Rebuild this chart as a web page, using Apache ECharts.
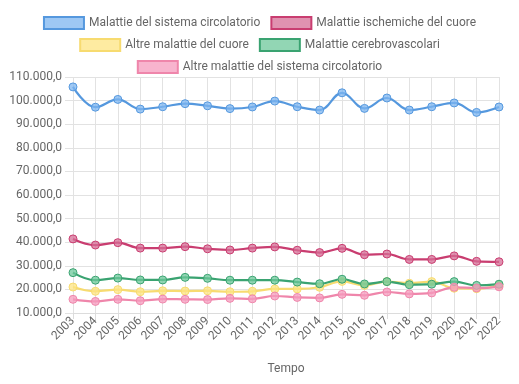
<!DOCTYPE html>
<html>
<head>
<meta charset="utf-8">
<script src="https://cdn.jsdelivr.net/npm/echarts@6/dist/echarts.min.js"></script>
<style>html,body{margin:0;padding:0;background:#fff}#c{width:519px;height:384px}</style>
</head>
<body>
<div id="c"></div>
<script>
var years = ['2003','2004','2005','2006','2007','2008','2009','2010','2011','2012','2013','2014','2015','2016','2017','2018','2019','2020','2021','2022'];
var sistemaCircolatorio = [105800,97200,100500,96400,97400,98700,97800,96600,97300,99800,97400,96000,103300,96700,101100,96000,97400,99000,95000,97300];
var ischemiche = [41400,38800,39800,37500,37500,38100,37200,36700,37500,38000,36600,35600,37400,34700,35000,32700,32700,34200,31900,31700];
var altreCuore = [21000,19200,19900,19000,19400,19300,19400,19000,19200,20200,20200,20900,23400,21700,23300,22600,23300,20500,20300,21700];
var cerebrovascolari = [27100,23900,24800,24000,24000,25100,24700,23900,23900,23900,23100,22400,24300,22300,23300,22000,22200,23300,21700,22200];
var altreSistema = [15800,14900,15800,15200,15900,15800,15700,16200,16000,17200,16600,16400,17900,17500,18900,18100,18500,20900,20600,21100];
var names = ['Malattie del sistema circolatorio','Malattie ischemiche del cuore','Altre malattie del cuore','Malattie cerebrovascolari','Altre malattie del sistema circolatorio'];
var yTicks = {min:10000, max:110000, interval:10000};

var lineColors = ['#5598de','#c93d70','#f7db70','#3aa371','#ef86ab'];
var fillColors = ['rgba(125,182,240,0.75)','rgba(214,110,150,0.75)','rgba(253,228,130,0.75)','rgba(110,200,155,0.75)','rgba(246,155,190,0.75)'];
var dataSets = [sistemaCircolatorio, ischemiche, altreCuore, cerebrovascolari, altreSistema];

function fmt(v){
  var s = Math.round(v).toString().replace(/\B(?=(\d{3})+(?!\d))/g,'.');
  return s + ',0';
}

var series = names.map(function(n,i){
  return {
    name:n, type:'line', data:dataSets[i], smooth:0.4,
    symbol:'circle', symbolSize:8,
    lineStyle:{color:lineColors[i], width:2.2},
    itemStyle:{color:fillColors[i], borderColor:lineColors[i], borderWidth:1},
    emphasis:{disabled:true}
  };
});

var legendBase = {icon:'rect', itemWidth:40, itemHeight:12, itemGap:10, left:'center',
  textStyle:{color:'#666', fontSize:12, fontFamily:'Roboto'}, selectedMode:false};

var chart = echarts.init(document.getElementById('c'), null, {renderer:'canvas'});
chart.setOption({
  animation:false,
  textStyle:{fontFamily:'Roboto'},
  legend:[
    Object.assign({}, legendBase, {top:11, data:[names[0],names[1]]}),
    Object.assign({}, legendBase, {top:33, data:[names[2],names[3]]}),
    Object.assign({}, legendBase, {top:55, data:[names[4]]})
  ],
  grid:{left:73, right:20, top:77, bottom:71, containLabel:false},
  xAxis:{
    type:'category', data:years, boundaryGap:false,
    name:'Tempo', nameLocation:'middle', nameGap:50,
    nameTextStyle:{color:'#666', fontSize:12},
    axisLine:{show:true, lineStyle:{color:'#dcdcdc'}},
    axisTick:{show:true, length:6, lineStyle:{color:'#dcdcdc'}},
    axisLabel:{rotate:45, color:'#666', fontSize:12, margin:6},
    splitLine:{show:true, lineStyle:{color:'#e2e2e2'}}
  },
  yAxis:{
    type:'value', min:yTicks.min, max:yTicks.max, interval:yTicks.interval,
    axisLine:{show:false},
    axisTick:{show:true, length:8, lineStyle:{color:'#e2e2e2'}},
    axisLabel:{color:'#666', fontSize:12, margin:11, formatter:fmt},
    splitLine:{show:true, lineStyle:{color:'#e2e2e2'}}
  },
  series:series
});
</script>
</body>
</html>
